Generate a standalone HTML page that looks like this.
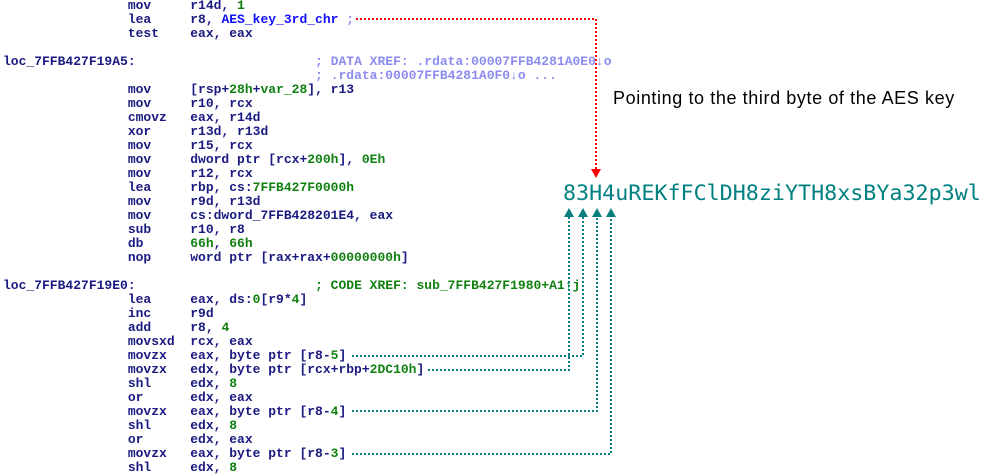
<!DOCTYPE html>
<html><head><style>
body{margin:0;width:997px;height:475px;background:#fff;position:relative;overflow:hidden}
pre{position:absolute;left:3px;top:-1px;margin:0;font-family:"Liberation Mono",monospace;font-weight:bold;font-size:13px;line-height:14px;color:#1a1a80}
.g{color:#108010}.b{color:#1010ff}.c{color:#8c8cf0}.cg{color:#108010}
.key{position:absolute;left:563px;top:181px;font-family:"DejaVu Sans Mono",monospace;font-size:21.7px;color:#008080;letter-spacing:0}
.note{position:absolute;left:613px;top:88px;font-family:"Liberation Sans",sans-serif;font-size:18px;letter-spacing:0.6px;color:#000}
svg{position:absolute;left:0;top:0}
</style></head><body>
<pre>                mov     r14d, <span class="g">1</span>
                lea     r8, <span class="b">AES_key_3rd_chr</span> <span class="c">;</span>
                test    eax, eax

loc_7FFB427F19A5:                       <span class="c">; DATA XREF: .rdata:00007FFB4281A0E0↓o</span>
                                        <span class="c">; .rdata:00007FFB4281A0F0↓o ...</span>
                mov     [rsp+<span class="g">28h</span>+<span class="g">var_28</span>], r13
                mov     r10, rcx
                cmovz   eax, r14d
                xor     r13d, r13d
                mov     r15, rcx
                mov     dword ptr [rcx+<span class="g">200h</span>], <span class="g">0Eh</span>
                mov     r12, rcx
                lea     rbp, cs:<span class="g">7FFB427F0000h</span>
                mov     r9d, r13d
                mov     cs:dword_7FFB428201E4, eax
                sub     r10, r8
                db      <span class="g">66h</span>, <span class="g">66h</span>
                nop     word ptr [rax+rax+<span class="g">00000000h</span>]

loc_7FFB427F19E0:                       <span class="cg">; CODE XREF: sub_7FFB427F1980+A1↑j</span>
                lea     eax, ds:<span class="g">0</span>[r9*<span class="g">4</span>]
                inc     r9d
                add     r8, <span class="g">4</span>
                movsxd  rcx, eax
                movzx   eax, byte ptr [r8-<span class="g">5</span>]
                movzx   edx, byte ptr [rcx+rbp+<span class="g">2DC10h</span>]
                shl     edx, <span class="g">8</span>
                or      edx, eax
                movzx   eax, byte ptr [r8-<span class="g">4</span>]
                shl     edx, <span class="g">8</span>
                or      edx, eax
                movzx   eax, byte ptr [r8-<span class="g">3</span>]
                shl     edx, <span class="g">8</span></pre>
<div class="note">Pointing to the third byte of the AES key</div>
<div class="key">83H4uREKfFClDH8ziYTH8xsBYa32p3wl</div>
<svg width="997" height="475">
<g fill="none" stroke-width="2" stroke-dasharray="2,2">
<path d="M356 19 H596 V170" stroke="#f00"/>
<path d="M352 356 H583 V214" stroke="#0a7f7f"/>
<path d="M428 370 H569 V214" stroke="#0a7f7f"/>
<path d="M352 411 H597 V214" stroke="#0a7f7f"/>
<path d="M352 454 H611 V214" stroke="#0a7f7f"/>
</g>
<polygon points="591,169 601,169 596,178" fill="#f00"/>
<g fill="#0a7f7f">
<polygon points="564,217 574,217 569,208"/>
<polygon points="578,217 588,217 583,208"/>
<polygon points="592,217 602,217 597,208"/>
<polygon points="606,217 616,217 611,208"/>
</g>
</svg>
</body></html>
